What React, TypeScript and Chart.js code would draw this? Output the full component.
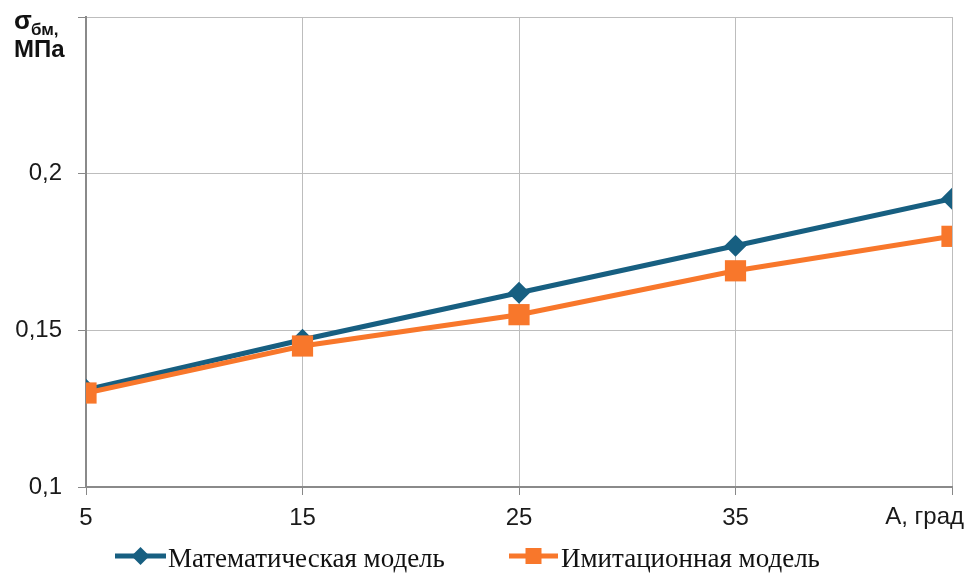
import React, { useEffect, useRef } from "react";
import { Chart, registerables } from "chart.js";

Chart.register(...registerables);

const angles = [5, 15, 25, 35, 45];
const mathModel = [0.131, 0.147, 0.162, 0.177, 0.192];
const imitModel = [0.130, 0.145, 0.155, 0.169, 0.180];
const yTicks = [0.1, 0.15, 0.2, 0.25];
const seriesNames = ["Математическая модель", "Имитационная модель"];
const xAxisTitle = "А, град";
const yAxisTitleMain = "σ";
const yAxisTitleSub = "бм,";
const yAxisTitleUnit = "МПа";

const BLUE = "#175f81";
const ORANGE = "#f8772b";

const textPlugin = {
  id: "customTexts",
  afterDraw(chart: any) {
    const ctx = chart.ctx;
    ctx.save();
    ctx.fillStyle = "#111";
    ctx.textBaseline = "alphabetic";
    ctx.textAlign = "left";
    // y axis title
    ctx.font = "bold 26px 'Liberation Sans', Arial, sans-serif";
    ctx.fillText(yAxisTitleMain, 14, 29);
    ctx.font = "bold 17px 'Liberation Sans', Arial, sans-serif";
    ctx.fillText(yAxisTitleSub, 31, 35);
    ctx.font = "bold 24px 'Liberation Sans', Arial, sans-serif";
    ctx.fillText(yAxisTitleUnit, 14, 57);
    // x axis title at last tick
    ctx.font = "24px 'Liberation Sans', Arial, sans-serif";
    ctx.textAlign = "right";
    ctx.fillStyle = "#1a1a1a";
    ctx.fillText(xAxisTitle, 964, 524);
    // legend
    const items = [
      { color: BLUE, style: "diamond", x0: 115, x1: 166, tx: 168, label: seriesNames[0] },
      { color: ORANGE, style: "square", x0: 509, x1: 558, tx: 561, label: seriesNames[1] },
    ];
    const ly = 556;
    items.forEach((it) => {
      ctx.strokeStyle = it.color;
      ctx.lineWidth = 5;
      ctx.beginPath();
      ctx.moveTo(it.x0, ly);
      ctx.lineTo(it.x1, ly);
      ctx.stroke();
      ctx.fillStyle = it.color;
      const cx = (it.x0 + it.x1) / 2;
      ctx.beginPath();
      if (it.style === "diamond") {
        const r = 9;
        ctx.moveTo(cx - r, ly);
        ctx.lineTo(cx, ly - r);
        ctx.lineTo(cx + r, ly);
        ctx.lineTo(cx, ly + r);
        ctx.closePath();
      } else {
        const s = 8;
        ctx.rect(cx - s, ly - s, 2 * s, 2 * s);
      }
      ctx.fill();
      ctx.fillStyle = "#111";
      ctx.textAlign = "left";
      ctx.font = "27px 'Liberation Serif', 'Times New Roman', serif";
      ctx.fillText(it.label, it.tx, 567);
    });
    ctx.restore();
  },
};

export default function App() {
  const ref = useRef<HTMLCanvasElement | null>(null);
  useEffect(() => {
    if (!ref.current) return;
    const chart = new Chart(ref.current, {
      type: "line",
      data: {
        datasets: [
          {
            label: seriesNames[1],
            data: angles.map((x, i) => ({ x, y: imitModel[i] })),
            borderColor: ORANGE,
            backgroundColor: ORANGE,
            borderWidth: 5,
            pointStyle: "rect",
            pointRadius: 15,
            pointBorderWidth: 0,
            pointBackgroundColor: ORANGE,
            order: 0,
          },
          {
            label: seriesNames[0],
            data: angles.map((x, i) => ({ x, y: mathModel[i] })),
            borderColor: BLUE,
            backgroundColor: BLUE,
            borderWidth: 5,
            pointStyle: "rectRot",
            pointRadius: 11,
            pointBorderWidth: 0,
            pointBackgroundColor: BLUE,
            order: 1,
          },
        ],
      },
      options: {
        responsive: false,
        animation: false,
        layout: { padding: { top: 17, right: 15, left: 0, bottom: 0 } },
        plugins: { legend: { display: false }, tooltip: { enabled: false } },
        scales: {
          x: {
            type: "linear",
            min: angles[0],
            max: angles[angles.length - 1],
            afterFit: (s: any) => {
              s.height = 86;
              s.paddingLeft = 0;
              s.paddingRight = 0;
            },
            grid: { color: "#bdbdbd", lineWidth: 1, tickLength: 8, tickColor: "#888" },
            border: { display: true, color: "#8a8a8a", width: 2 },
            ticks: {
              stepSize: 10,
              padding: 9,
              color: "#1a1a1a",
              font: { family: "'Liberation Sans', Arial, sans-serif", size: 24 },
              maxRotation: 0,
              callback: (v: any) => (v === angles[angles.length - 1] ? "" : String(v)),
            },
          },
          y: {
            min: yTicks[0],
            max: yTicks[yTicks.length - 1],
            afterFit: (s: any) => {
              s.width = 86;
              s.paddingTop = 0;
              s.paddingBottom = 0;
            },
            afterBuildTicks: (s: any) => {
              s.ticks = yTicks.map((v) => ({ value: v }));
            },
            grid: { color: "#bdbdbd", lineWidth: 1, tickLength: 8, tickColor: "#888" },
            border: { display: true, color: "#8a8a8a", width: 2 },
            ticks: {
              padding: 16,
              color: "#1a1a1a",
              font: { family: "'Liberation Sans', Arial, sans-serif", size: 24 },
              callback: (v: any) =>
                v >= yTicks[yTicks.length - 1] - 1e-9 ? "" : String(Number(v.toFixed(2))).replace(".", ","),
            },
          },
        },
      },
      plugins: [textPlugin],
    });
    return () => chart.destroy();
  }, []);
  return (
    <div style={{ position: "fixed", left: 0, top: 0, width: 967, height: 573, background: "#fff" }}>
      <canvas ref={ref} width={967} height={573} style={{ width: 967, height: 573, display: "block" }} />
    </div>
  );
}
